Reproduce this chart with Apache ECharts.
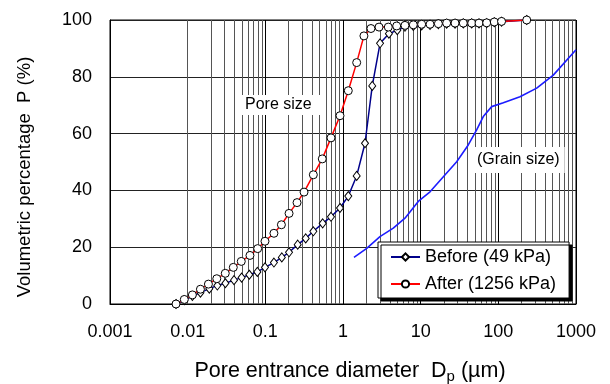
<!DOCTYPE html>
<html><head><meta charset="utf-8">
<script src="https://cdn.jsdelivr.net/npm/echarts@6/dist/echarts.min.js"></script>
<style>html,body{margin:0;padding:0;background:#fff}#c{width:610px;height:384px}</style>
</head><body><div id="c"></div>
<script>
// ---- data ----
const xTickLabels = ['0.001', '0.01', '0.1', '1', '10', '100', '1000'];
const yTickLabels = ['0', '20', '40', '60', '80', '100'];

const afterD = [0.00708, 0.00905, 0.0115, 0.0146, 0.0185, 0.0237, 0.0305, 0.0387, 0.049, 0.0634,
  0.0797, 0.099, 0.129, 0.161, 0.202, 0.256, 0.315, 0.415, 0.541, 0.700,
  0.915, 1.17, 1.50, 1.86, 2.29, 2.91, 3.83, 4.91, 6.28, 8.04,
  10.3, 13.2, 16.9, 21.6, 27.7, 35.4, 45.4, 56.4, 70.8, 88.7, 110, 232];
const afterP = [0, 1.6, 3.2, 5.2, 7.0, 8.9, 10.8, 12.9, 15.0, 17.1,
  19.5, 22.1, 24.9, 27.9, 31.9, 35.7, 39.4, 45.5, 51.1, 58.5,
  66.3, 75.1, 85.0, 94.4, 97.0, 97.5, 97.5, 97.9, 98.1, 98.3,
  98.5, 98.5, 98.7, 98.9, 98.9, 98.9, 98.9, 98.9, 99.0, 99.3, 99.5, 100];

const beforeD = [0.00708, 0.00905, 0.0115, 0.0146, 0.0190, 0.0241, 0.0306, 0.0395, 0.0495, 0.0622,
  0.0789, 0.099, 0.129, 0.163, 0.202, 0.261, 0.331, 0.415, 0.547, 0.700,
  0.915, 1.17, 1.50, 1.92, 2.38, 3.0, 3.9, 5.0, 6.28, 8.04,
  10.3, 13.2, 16.9, 21.6, 27.7, 35.4, 45.4, 56.4, 70.8, 88.7, 110, 232];
const beforeP = [0, 1.3, 2.8, 4.0, 5.4, 6.5, 7.3, 8.4, 9.3, 10.3,
  11.3, 12.9, 14.6, 16.4, 18.2, 20.9, 23.1, 25.6, 28.4, 30.7,
  33.8, 38.0, 45.1, 56.6, 76.8, 91.8, 95.2, 96.4, 97.6, 97.9,
  98.1, 98.3, 98.5, 98.7, 98.7, 98.8, 98.8, 98.8, 98.9, 99.2, 99.4, 100];

const grainD = [1.385, 2.02, 2.99, 4.44, 6.28, 9.31, 13.2, 19.6, 29.1, 41.0,
  52.6, 64.0, 82.1, 116, 190, 312, 510, 1000];
const grainP = [16.4, 19.6, 23.7, 26.7, 30.2, 36.1, 39.5, 44.8, 50.1, 56.0,
  61.3, 66.0, 69.5, 70.9, 73.0, 76.0, 80.6, 89.5];

const seriesNames = ['Before (49 kPa)', 'After (1256 kPa)', '(Grain size)'];

// ---- build ----
const FONT = 'Liberation Sans, Arial, sans-serif';
const zip = (a, b) => a.map((v, i) => [v, b[i]]);

const minorVals = [];
for (let k = -3; k <= 2; k++) {
  for (let m = 2; m <= 9; m++) minorVals.push(+(m * Math.pow(10, k)).toPrecision(3));
}

const chart = echarts.init(document.getElementById('c'), null, {renderer: 'canvas'});
chart.setOption({
  animation: false,
  backgroundColor: '#fff',
  grid: {left: 110, top: 20, right: 34, bottom: 80, outerBoundsMode: 'none', containLabel: false,
    show: true, borderColor: '#000', borderWidth: 1, backgroundColor: 'transparent'},
  xAxis: {
    type: 'log', logBase: 10, min: 0.001, max: 1000,
    name: '{a|Pore entrance diameter  D}{b|p}{a| (µm)}',
    nameLocation: 'middle', nameGap: 54, nameMoveOverlap: false,
    nameTextStyle: {
      padding: [0, 0, 0, 14],
      rich: {
        a: {fontSize: 21.5, fontFamily: FONT, color: '#000', lineHeight: 26},
        b: {fontSize: 15, fontFamily: FONT, color: '#000', lineHeight: 15, verticalAlign: 'bottom'}
      }
    },
    axisLine: {show: true, lineStyle: {color: '#000', width: 1}},
    axisTick: {show: false},
    axisLabel: {
      fontSize: 18, fontFamily: FONT, color: '#000', margin: 19,
      formatter: v => xTickLabels[Math.round(Math.log10(v)) + 3]
    },
    splitLine: {show: true, lineStyle: {color: '#000', width: 1}}
  },
  yAxis: {
    type: 'value', min: 0, max: 100, interval: 20,
    name: 'Volumetric percentage  P (%)',
    nameLocation: 'middle', nameGap: 76, nameRotate: 90, nameMoveOverlap: false,
    nameTextStyle: {fontSize: 18.5, fontFamily: FONT, color: '#000', padding: [0, 30, 0, 0]},
    axisLine: {show: true, lineStyle: {color: '#000', width: 1}},
    axisTick: {show: false},
    axisLabel: {
      fontSize: 18, fontFamily: FONT, color: '#000', margin: 18,
      formatter: v => yTickLabels[Math.round(v / 20)]
    },
    splitLine: {show: true, lineStyle: {color: '#222', width: 1}}
  },
  legend: {
    data: [seriesNames[0], seriesNames[1]],
    orient: 'vertical', left: 378, top: 242, z: 20,
    padding: [6, 13, 5, 12], itemGap: 9, itemWidth: 29, itemHeight: 9, itemTextGap: 6,
    backgroundColor: '#fff', borderColor: '#000', borderWidth: 1,
    shadowColor: '#000', shadowBlur: 0, shadowOffsetX: 3, shadowOffsetY: 3,
    textStyle: {fontSize: 18, fontFamily: FONT, color: '#000'},
    selectedMode: false
  },
  graphic: [
    {type: 'text', left: 235, top: 95, z: 10,
      style: {text: 'Pore size', font: '16px ' + FONT, fill: '#000', backgroundColor: '#fff', padding: [2, 10, 2, 10]}},
    {type: 'text', left: 472, top: 147, z: 10,
      style: {text: seriesNames[2], font: '16px ' + FONT, fill: '#000', backgroundColor: '#fff', padding: [5, 5, 5, 5]}}
  ],
  series: [
    {
      type: 'line', name: 'minor-grid', data: [], silent: true, z: 1,
      markLine: {
        silent: true, z: 1, symbol: ['none', 'none'], animation: false,
        label: {show: false},
        lineStyle: {color: '#555', width: 1, type: 'solid'},
        emphasis: {disabled: true},
        data: minorVals.map(v => ({xAxis: v}))
      }
    },
    {
      type: 'line', name: seriesNames[2], data: zip(grainD, grainP), z: 3,
      showSymbol: false, symbol: 'none',
      lineStyle: {color: '#1c1cff', width: 1.6}
    },
    {
      type: 'line', name: seriesNames[0], data: zip(beforeD, beforeP), z: 4,
      symbol: 'diamond', symbolSize: [7, 9],
      itemStyle: {color: '#fff', borderColor: '#000', borderWidth: 1},
      lineStyle: {color: '#00008b', width: 1.5}
    },
    {
      type: 'line', name: seriesNames[1], data: zip(afterD, afterP), z: 5,
      symbol: 'circle', symbolSize: 8,
      itemStyle: {color: '#fff', borderColor: '#000', borderWidth: 1},
      lineStyle: {color: '#ff0000', width: 1.5}
    }
  ]
});
</script>
</body></html>
